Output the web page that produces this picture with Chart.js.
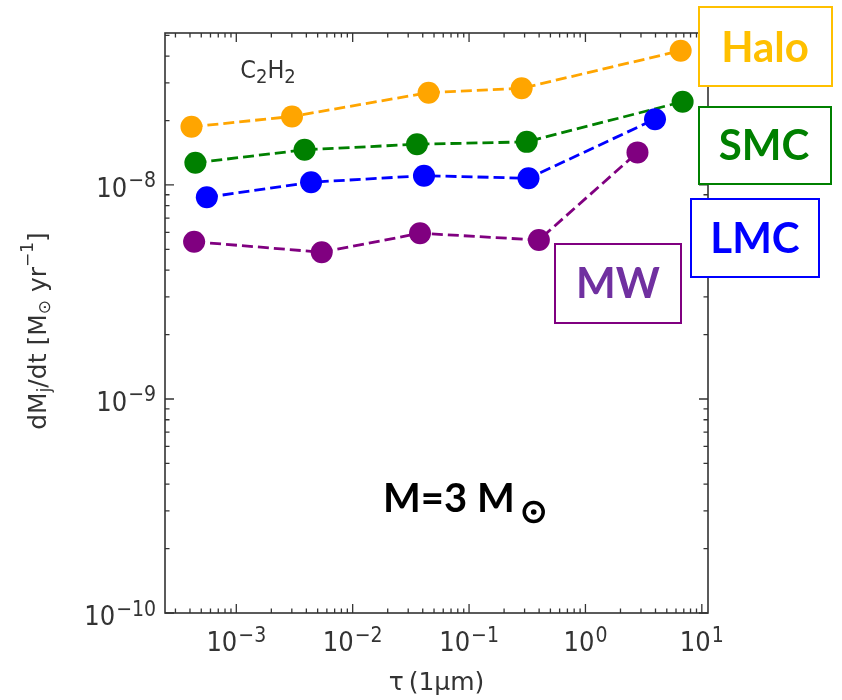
<!DOCTYPE html>
<html>
<head>
<meta charset="utf-8">
<script src="https://cdn.jsdelivr.net/npm/chart.js@4.4.0/dist/chart.umd.min.js"></script>
<style>
  html, body { margin: 0; padding: 0; background: #fff; }
  #wrap { width: 842px; height: 700px; }
</style>
</head>
<body>
<div id="wrap"><canvas id="mdotChart" width="842" height="700"></canvas></div>
<script>
    // tau(1 micron) of each model
    var tauHalo = [4.12e-4, 3.01e-3, 0.0449, 0.283, 6.58];
    var tauSMC  = [4.45e-4, 3.86e-3, 0.0357, 0.313, 6.84];
    var tauLMC  = [5.58e-4, 4.39e-3, 0.0410, 0.324, 3.96];
    var tauMW   = [4.34e-4, 5.42e-3, 0.0379, 0.398, 2.80];

    // dust mass-loss rate, Msun/yr
    var mdotHalo = [1.87e-8, 2.09e-8, 2.70e-8, 2.83e-8, 4.24e-8];
    var mdotSMC  = [1.27e-8, 1.46e-8, 1.55e-8, 1.59e-8, 2.45e-8];
    var mdotLMC  = [8.76e-9, 1.03e-8, 1.105e-8, 1.075e-8, 2.03e-8];
    var mdotMW   = [5.43e-9, 4.85e-9, 5.95e-9, 5.53e-9, 1.42e-8];

    // decade ticks: value and exponent shown as 10^n
    var xTicks = [1e-3, 1e-2, 1e-1, 1, 10];
    var xTickExp = ["\u22123", "\u22122", "\u22121", "0", "1"];
    var yTicks = [1e-10, 1e-9, 1e-8];
    var yTickExp = ["\u221210", "\u22129", "\u22128"];

    var tickFont = "DejaVu Sans Condensed";
    var titleFont = "DejaVu Sans";
    var boxFont = "Lato";

    function points(xs, ys) {
        return xs.map(function (x, i) { return { x: x, y: ys[i] }; });
    }

    function series(label, xs, ys, color, order) {
        return {
            label: label,
            data: points(xs, ys),
            showLine: true,
            fill: false,
            borderColor: color,
            borderWidth: 2.8,
            borderDash: [11, 5],
            pointRadius: 11,
            pointHoverRadius: 11,
            pointBackgroundColor: color,
            pointBorderWidth: 0,
            order: order
        };
    }

    // inward ticks on all four sides, like a matplotlib frame
    function drawLogTicks(ctx, scale, horizontal, area) {
        var lo = Math.floor(Math.log10(scale.min));
        var hi = Math.ceil(Math.log10(scale.max));
        for (var d = lo; d <= hi; d++) {
            for (var k = 1; k <= 9; k++) {
                var v = k * Math.pow(10, d);
                if (v < scale.min * 0.999 || v > scale.max * 1.001) continue;
                var len = k === 1 ? 9 : 4.5;
                var p = scale.getPixelForValue(v);
                ctx.beginPath();
                if (horizontal) {
                    ctx.moveTo(p, area.bottom); ctx.lineTo(p, area.bottom - len);
                    ctx.moveTo(p, area.top); ctx.lineTo(p, area.top + len);
                } else {
                    ctx.moveTo(area.left, p); ctx.lineTo(area.left + len, p);
                    ctx.moveTo(area.right, p); ctx.lineTo(area.right - len, p);
                }
                ctx.stroke();
            }
        }
    }

    // "10" followed by a raised exponent; anchor is "center" or "right"
    function drawPower(ctx, exp, x, base, anchor) {
        ctx.font = "27px '" + tickFont + "'";
        var w1 = ctx.measureText("10").width;
        ctx.font = "21px '" + tickFont + "'";
        var w2 = ctx.measureText(exp).width;
        var x0 = anchor === "right" ? x - w1 - w2 - 1 : x - (w1 + w2 + 1) / 2;
        ctx.textAlign = "left";
        ctx.textBaseline = "alphabetic";
        ctx.font = "27px '" + tickFont + "'";
        ctx.fillText("10", x0, base);
        ctx.font = "21px '" + tickFont + "'";
        ctx.fillText(exp, x0 + w1 + 1, base - 9.5);
    }

    // draws runs of text with sub/superscripts, centred on 0
    function drawRuns(ctx, runs, size, family, small) {
        var total = 0;
        small = small || 0.68;
        runs.forEach(function (r) {
            ctx.font = (r.s ? size * small : size) + "px '" + family + "'";
            r.w = ctx.measureText(r.t).width;
            total += r.w;
        });
        var x = -total / 2;
        runs.forEach(function (r) {
            ctx.font = (r.s ? size * small : size) + "px '" + family + "'";
            var dy = r.s === 1 ? size * 0.28 : (r.s === -1 ? -size * 0.42 : 0);
            ctx.fillText(r.t, x, dy);
            x += r.w;
        });
    }

    var labelBoxes = [
        { text: "Halo", x0: 699, y0: 7, x1: 832, y1: 86, cx: 765, base: 62, line: "#FFC000", color: "#FFC000" },
        { text: "SMC", x0: 699, y0: 107, x1: 831, y1: 184, cx: 764, base: 160, line: "#008000", color: "#008000" },
        { text: "LMC", x0: 691, y0: 199, x1: 819, y1: 277, cx: 755, base: 253, line: "#0000FF", color: "#0000FF" },
        { text: "MW", x0: 555, y0: 244, x1: 681, y1: 323, cx: 618, base: 298, line: "#800080", color: "#7030A0" }
    ];

    var framePlugin = {
        id: "frame",
        afterDatasetsDraw: function (chart) {
            var ctx = chart.ctx, a = chart.chartArea;
            ctx.save();
            ctx.strokeStyle = "#333";
            ctx.lineWidth = 1.3;
            drawLogTicks(ctx, chart.scales.x, true, a);
            drawLogTicks(ctx, chart.scales.y, false, a);
            ctx.lineWidth = 1.6;
            ctx.strokeRect(a.left, a.top, a.right - a.left, a.bottom - a.top);
            ctx.restore();
        },
        afterDraw: function (chart) {
            var ctx = chart.ctx, a = chart.chartArea;
            var xs = chart.scales.x, ys = chart.scales.y;
            ctx.save();

            // decade labels
            ctx.fillStyle = "#333";
            xTicks.forEach(function (v, i) {
                drawPower(ctx, xTickExp[i], xs.getPixelForValue(v), a.bottom + 38, "center");
            });
            yTicks.forEach(function (v, i) {
                drawPower(ctx, yTickExp[i], a.left - 9, ys.getPixelForValue(v) + 12, "right");
            });

            // axis titles
            ctx.textBaseline = "middle";
            ctx.textAlign = "left";
            ctx.save();
            ctx.translate(39, 331);
            ctx.rotate(-Math.PI / 2);
            drawRuns(ctx, [
                { t: "dM" }, { t: "j", s: 1 }, { t: "/dt [M" }, { t: "\u2299", s: 1 },
                { t: " yr" }, { t: "\u22121", s: -1 }, { t: "]" }
            ], 25, titleFont);
            ctx.restore();

            ctx.save();
            ctx.translate((a.left + a.right) / 2, 683);
            drawRuns(ctx, [{ t: "\u03C4\u2009(1\u03BCm)" }], 25, titleFont);
            ctx.restore();

            // molecule label
            ctx.save();
            ctx.translate(268, 71);
            drawRuns(ctx, [{ t: "C" }, { t: "2", s: 1 }, { t: "H" }, { t: "2", s: 1 }], 25, tickFont, 0.8);
            ctx.restore();

            // stellar mass
            ctx.fillStyle = "#000";
            ctx.textBaseline = "alphabetic";
            ctx.font = "bold 40px '" + boxFont + "'";
            ctx.fillText("M=3 M", 383, 512);
            var mw = ctx.measureText("M=3 M").width;
            var cx = 383 + mw + 19, cy = 512;
            ctx.lineWidth = 3.5;
            ctx.strokeStyle = "#000";
            ctx.beginPath();
            ctx.arc(cx, cy, 9.5, 0, Math.PI * 2);
            ctx.stroke();
            ctx.beginPath();
            ctx.arc(cx, cy, 2.8, 0, Math.PI * 2);
            ctx.fill();

            // galaxy labels in boxes
            ctx.textAlign = "center";
            labelBoxes.forEach(function (b) {
                ctx.fillStyle = "#fff";
                ctx.fillRect(b.x0, b.y0, b.x1 - b.x0, b.y1 - b.y0);
                ctx.strokeStyle = b.line;
                ctx.lineWidth = 2;
                ctx.strokeRect(b.x0, b.y0, b.x1 - b.x0, b.y1 - b.y0);
                ctx.fillStyle = b.color;
                ctx.font = "bold 42px '" + boxFont + "'";
                ctx.fillText(b.text, b.cx, b.base);
            });
            ctx.restore();
        }
    };

    var ctx = document.getElementById("mdotChart").getContext("2d");
    var chart = new Chart(ctx, {
        type: "line",
        data: {
            datasets: [
                series("Halo", tauHalo, mdotHalo, "#FFA500", 4),
                series("SMC", tauSMC, mdotSMC, "#008000", 3),
                series("LMC", tauLMC, mdotLMC, "#0000FF", 2),
                series("MW", tauMW, mdotMW, "#800080", 1)
            ]
        },
        options: {
            responsive: false,
            animation: false,
            layout: { padding: { top: 33, right: 134, left: 0, bottom: 0 } },
            plugins: {
                legend: { display: false },
                tooltip: { enabled: false }
            },
            scales: {
                x: {
                    type: "logarithmic",
                    min: 2.44e-4,
                    max: 11.3,
                    afterBuildTicks: function (scale) {
                        scale.ticks = xTicks.map(function (v) { return { value: v }; });
                    },
                    afterFit: function (scale) { scale.height = 87; },
                    grid: { display: false, drawTicks: false },
                    border: { display: false },
                    ticks: { display: false }
                },
                y: {
                    type: "logarithmic",
                    min: 1e-10,
                    max: 5.13e-8,
                    afterBuildTicks: function (scale) {
                        scale.ticks = yTicks.map(function (v) { return { value: v }; });
                    },
                    afterFit: function (scale) { scale.width = 165; },
                    grid: { display: false, drawTicks: false },
                    border: { display: false },
                    ticks: { display: false }
                }
            }
        },
        plugins: [framePlugin]
    });
</script>
</body>
</html>
